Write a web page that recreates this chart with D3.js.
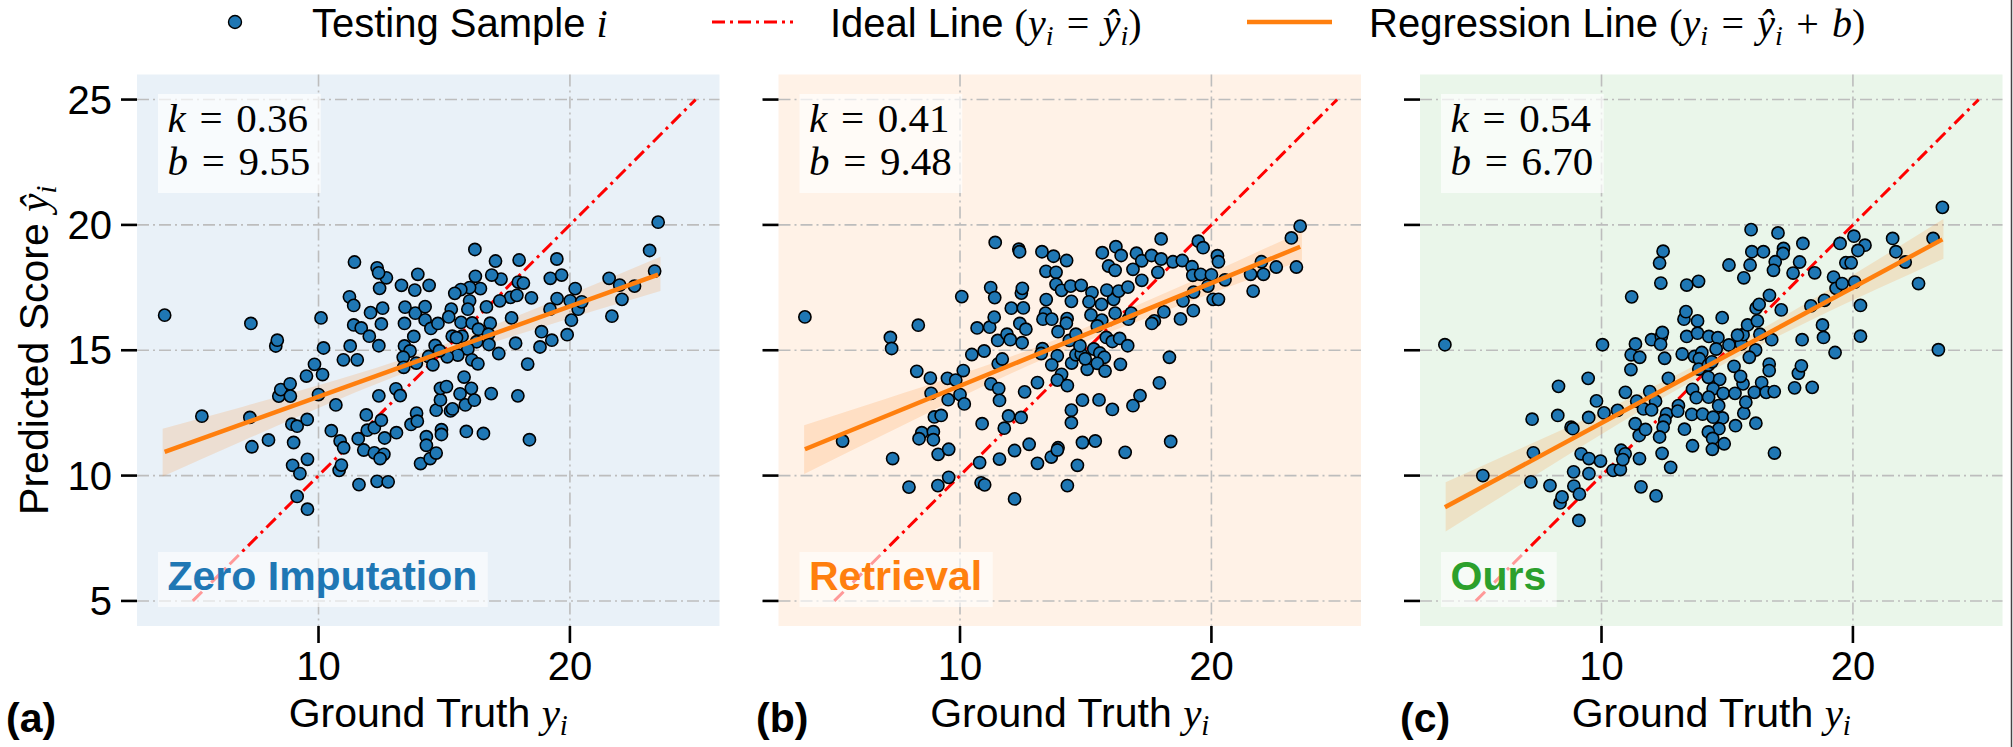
<!DOCTYPE html>
<html>
<head>
<meta charset="utf-8">
<script src="https://cdn.jsdelivr.net/npm/d3@7"></script>
<style>
  body { margin: 0; background: #fff; }
  svg { display: block; }
  text { white-space: pre; }
</style>
</head>
<body>
<div id="chart"></div>
<script>
// ---- data ----
const zeroX = [3.88,7.31,5.36,7.27,7.35,8.01,8.30,8.36,8.42,8.50,8.87,8.88,8.94,9.15,9.01,8.97,9.26,9.56,9.55,9.52,9.84,10.16,10.00,10.20,10.10,9.15,9.56,10.69,10.51,10.86,11.00,10.82,10.91,10.99,11.26,11.54,11.23,11.40,11.43,11.40,11.70,12.02,12.07,12.40,12.50,12.55,12.43,12.70,12.33,12.39,11.61,12.33,12.77,11.90,11.58,11.94,12.22,12.50,12.63,11.80,12.22,12.60,12.45,12.40,13.10,13.08,13.25,13.30,13.44,13.42,13.83,13.95,14.40,13.85,14.24,14.24,14.47,14.75,13.79,13.42,13.64,13.37,13.39,13.89,14.38,14.64,14.55,13.68,13.90,13.93,14.29,14.29,14.06,14.44,14.68,14.89,14.89,14.68,14.85,14.85,15.09,15.25,15.33,15.63,15.84,16.08,16.20,15.79,15.88,16.56,16.87,17.93,18.39,18.32,17.84,18.81,18.87,19.28,19.89,20.06,17.68,18.47,17.95,18.15,17.98,17.64,17.89,17.21,17.26,16.89,17.04,16.22,16.24,16.44,16.01,15.66,15.42,16.01,15.94,15.28,15.18,15.67,16.11,16.68,16.83,16.36,16.76,15.71,15.32,15.49,16.29,16.78,17.17,15.94,15.54,15.12,16.10,16.34,19.22,19.67,19.48,19.21,19.49,20.01,20.21,20.33,20.47,21.56,21.98,22.57,22.07,21.67,23.17,23.51,23.37,14.81];
const zeroY = [16.40,16.07,12.37,12.32,11.15,11.42,15.17,15.40,13.17,13.43,13.66,13.17,12.05,11.97,11.32,10.41,10.08,10.65,12.24,13.97,14.44,14.03,13.23,15.09,16.29,9.17,8.66,12.82,11.79,11.38,11.11,10.21,10.42,14.62,15.17,14.62,17.13,16.79,18.52,16.01,15.89,15.56,16.50,15.18,16.05,16.68,17.47,17.89,18.29,18.09,9.64,9.77,9.75,12.42,11.47,11.81,11.91,12.21,11.50,11.02,10.91,10.85,10.68,13.18,11.71,13.46,13.19,17.59,16.72,16.07,17.40,18.03,17.59,16.48,16.74,16.21,15.87,16.07,15.55,15.17,14.97,14.72,14.32,14.49,14.75,15.19,14.42,12.04,12.49,12.17,11.55,11.21,10.48,10.68,10.90,11.83,11.64,12.61,13.02,13.48,13.55,12.58,12.66,13.26,12.82,13.48,13.01,13.93,11.76,11.68,13.27,13.18,11.43,14.45,15.28,15.13,15.74,15.40,15.62,16.20,16.29,17.09,17.72,17.68,18.60,17.11,17.19,16.97,17.84,18.00,18.56,19.02,17.95,17.46,17.50,17.42,17.27,16.97,16.64,16.64,16.33,16.11,16.09,16.73,16.08,15.84,15.64,15.56,15.56,15.50,15.34,15.23,14.87,15.05,14.81,14.74,14.62,14.46,17.87,18.00,18.64,16.64,17.06,16.97,17.46,16.64,16.93,17.87,17.60,17.56,17.03,16.36,18.98,20.11,18.16,14.98];

const retrX = [3.83,5.33,7.23,7.28,8.34,7.32,7.97,8.28,8.82,8.85,8.98,9.25,8.48,8.37,8.94,8.94,9.13,9.55,9.12,9.55,9.50,9.83,10.13,10.00,9.53,10.17,10.07,10.47,10.96,10.68,11.18,11.36,11.22,11.38,11.40,10.88,10.78,10.84,10.98,11.57,12.17,12.17,12.75,13.08,13.63,13.90,13.87,14.27,14.67,14.87,15.38,16.57,18.38,11.76,11.93,12.43,11.23,11.54,11.57,11.52,11.68,11.50,11.87,12.00,12.04,12.52,12.44,12.48,12.34,12.37,12.38,12.62,12.47,12.57,13.08,13.26,13.72,14.24,13.42,13.82,13.82,14.04,14.40,14.82,13.43,14.43,13.40,13.30,13.65,14.26,14.23,13.90,14.35,14.61,13.28,13.23,13.87,13.65,14.44,14.61,14.82,14.77,14.04,13.87,14.27,15.06,14.98,14.87,15.53,16.06,14.43,14.43,15.25,15.13,15.63,15.21,15.64,15.46,16.11,15.84,16.31,16.17,16.68,16.70,16.81,15.82,16.06,16.35,16.67,15.32,15.56,15.74,15.46,16.38,15.77,15.66,16.20,16.41,15.91,16.17,17.02,17.23,16.88,17.23,17.62,18.00,18.00,17.87,18.47,18.84,19.23,19.48,19.67,20.24,20.28,19.26,19.57,20.00,20.54,19.86,19.29,18.87,18.11,17.73,17.63,18.77,19.28,20.07,20.28,18.33,17.93,17.16,16.88,21.56,21.99,22.07,21.66,22.58,23.38,23.18,23.53];
const retrY = [16.33,11.38,15.51,15.07,16.00,10.68,9.54,14.16,13.89,13.28,12.34,12.40,11.71,11.47,11.75,11.43,10.85,11.05,9.60,9.93,13.88,13.81,14.19,13.23,13.03,12.86,17.14,14.83,14.97,15.89,15.92,16.32,17.50,17.10,19.30,12.07,10.52,9.71,9.63,10.66,9.07,11.00,11.25,10.49,10.74,11.11,11.02,9.60,10.41,11.32,11.38,10.93,11.36,11.89,12.38,12.32,13.66,13.47,13.00,14.46,14.65,15.39,15.64,15.42,16.68,16.69,17.28,17.47,19.03,18.93,16.07,15.84,15.30,13.34,13.71,18.93,18.75,18.58,18.15,18.11,17.63,17.39,17.56,17.59,17.02,16.95,16.48,16.24,16.24,16.26,16.08,15.74,15.39,15.64,15.06,14.87,14.78,14.42,14.49,14.82,14.85,15.18,14.04,13.81,13.59,14.24,14.66,13.01,13.02,12.64,12.61,12.11,17.30,16.93,16.83,16.41,16.20,15.97,17.03,17.40,17.36,16.48,17.52,16.24,16.48,15.51,15.35,15.47,15.18,15.05,14.89,14.72,14.48,14.44,14.17,18.89,19.13,18.78,18.36,18.19,18.87,18.57,18.23,17.79,18.78,19.44,18.64,18.11,18.53,18.58,18.33,19.35,19.09,18.77,18.53,17.99,18.03,18.01,17.81,17.56,17.32,16.97,16.53,16.17,16.07,16.25,16.58,17.03,17.03,14.72,13.70,13.19,12.79,18.03,18.53,18.03,17.36,18.32,18.32,19.48,19.95];

const oursX = [3.77,5.28,7.24,8.29,8.26,7.29,7.19,7.95,8.35,8.43,8.90,9.12,9.10,8.89,9.50,9.19,9.50,9.96,8.79,8.86,9.49,9.47,9.80,10.10,10.04,10.64,10.46,10.75,10.78,10.94,10.85,10.95,11.20,11.17,11.18,11.35,11.52,11.34,11.50,11.75,11.51,11.57,12.17,11.40,11.67,11.92,12.15,11.99,11.99,12.38,12.35,12.42,12.51,12.45,12.31,12.36,13.39,13.86,12.66,12.59,12.52,12.45,12.31,12.41,12.75,13.06,13.03,13.30,13.62,13.59,14.02,13.62,13.77,13.21,13.39,13.28,13.36,13.82,13.82,14.27,14.63,13.70,13.99,13.89,13.87,14.25,14.25,14.39,14.56,14.80,15.07,14.70,14.44,14.26,14.66,14.81,14.44,14.67,14.25,14.42,14.41,14.88,15.33,16.14,15.66,15.74,14.84,15.31,15.63,15.27,15.53,15.07,15.56,15.63,15.81,16.13,15.88,16.30,16.20,16.15,16.27,16.68,16.77,16.67,16.67,16.37,16.08,16.55,16.87,16.88,15.95,17.02,15.98,16.44,17.24,17.22,15.91,15.66,16.91,16.84,17.88,17.62,18.01,18.48,17.15,17.98,18.38,17.68,17.83,17.95,18.33,18.87,18.79,18.83,19.29,19.23,19.49,20.04,20.48,20.20,19.72,19.93,19.33,19.57,20.07,20.30,20.30,21.58,21.71,22.08,22.61,23.19,23.56,23.40,15.41];
const oursY = [15.22,10.00,12.25,13.56,12.40,10.91,9.75,9.60,8.91,9.15,9.58,9.26,8.21,10.15,10.08,10.87,10.68,10.58,11.93,11.87,12.32,13.88,12.98,12.50,15.22,12.60,10.21,10.24,11.01,10.87,10.64,13.32,17.13,14.23,14.82,15.25,14.72,12.07,11.60,11.84,10.68,9.55,9.19,12.97,12.66,13.35,12.97,12.62,15.42,15.55,15.24,15.71,14.68,18.95,18.48,17.68,17.60,17.75,13.88,12.46,12.20,11.93,11.54,10.89,10.33,12.79,12.57,11.85,11.19,12.44,12.45,13.44,13.11,14.85,15.55,16.24,16.54,16.17,15.68,15.55,15.50,14.75,14.91,14.66,14.25,13.92,14.41,14.54,15.05,16.30,18.40,13.84,13.46,13.13,12.79,12.30,12.33,11.87,11.74,11.48,11.05,11.27,11.99,12.09,12.49,12.93,13.28,13.28,13.66,14.36,13.96,15.21,15.25,15.62,16.01,15.01,14.72,15.64,16.17,16.68,16.83,17.19,15.42,14.45,14.19,13.71,13.32,13.32,13.35,10.90,19.81,19.68,18.93,18.93,19.06,18.86,18.40,17.89,18.53,18.19,18.52,18.08,19.26,18.09,16.61,15.42,13.52,13.50,14.08,14.38,16.77,16.99,16.01,15.51,14.91,17.92,19.26,19.55,19.19,18.98,18.49,18.49,17.47,17.66,17.72,16.79,15.56,19.46,18.93,18.52,17.66,19.46,20.70,15.02,15.60];

const methodNames = ['Zero Imputation', 'Retrieval', 'Ours'];
const panelTags = ['(a)', '(b)', '(c)'];
const slopes = [0.36, 0.41, 0.54];
const intercepts = [9.55, 9.48, 6.70];
// confidence band half-widths, sampled along x
const ciX = [3.8, 7, 10, 13, 15, 18, 21, 23.6];
const ciZero = [0.95, 0.68, 0.45, 0.30, 0.28, 0.38, 0.52, 0.68];
const ciRetr = [0.97, 0.70, 0.45, 0.30, 0.28, 0.35, 0.45, 0.58];
const ciOurs = [0.98, 0.70, 0.45, 0.30, 0.28, 0.38, 0.58, 0.79];
const idealRange = [5, 25];
const xTicks = [10, 20];
const yTicks = [5, 10, 15, 20, 25];

// ---- layout / style ----
const W = 2013, H = 747;
const SANS = '"Liberation Sans", Arial, Helvetica, sans-serif';
const SERIF = '"Liberation Serif", "DejaVu Serif", serif';
const SP = '\u2004'; // math spacing around = and +
const panelLeft = [137, 778.5, 1420];
const panelW = 582.5, panelTop = 74.5, panelBottom = 626;
const bgColors = ['#e9f1f8', '#fff2e7', '#eaf6ea'];
const methodColors = ['#1f77b4', '#ff7f0e', '#2ca02c'];
const tagX = [6, 756, 1400];

const panels = [
  { xs: zeroX, ys: zeroY, ci: ciZero },
  { xs: retrX, ys: retrY, ci: ciRetr },
  { xs: oursX, ys: oursY, ci: ciOurs }
];

const svg = d3.select('#chart').append('svg')
  .attr('width', W).attr('height', H)
  .attr('viewBox', [0, 0, W, H]);

svg.append('rect').attr('width', W).attr('height', H).attr('fill', '#fff');

// mixed sans / math text built from tspans
function mathText(parent, parts, size) {
  const t = parent.append('text').attr('font-size', size).attr('fill', '#000');
  let shifted = false;
  parts.forEach(([kind, str]) => {
    const isSub = kind === 'sub';
    const s = t.append('tspan').text(str)
      .attr('font-family', kind === 'sans' ? SANS : SERIF)
      .attr('font-style', (kind === 'it' || isSub) ? 'italic' : 'normal');
    if (isSub) s.attr('font-size', size * 0.7);
    if (isSub && !shifted) { s.attr('dy', size * 0.2); shifted = true; }
    else if (!isSub && shifted) { s.attr('dy', -size * 0.2); shifted = false; }
  });
  return t;
}

const y = d3.scaleLinear().domain([4, 26]).range([panelBottom, panelTop]);

panels.forEach((p, i) => {
  const x0 = panelLeft[i];
  const x = d3.scaleLinear().domain([2.78, 25.95]).range([x0, x0 + panelW]);
  const g = svg.append('g');

  g.append('rect')
    .attr('x', x0).attr('y', panelTop)
    .attr('width', panelW).attr('height', panelBottom - panelTop)
    .attr('fill', bgColors[i]);

  // grid
  g.selectAll('line.gx').data(xTicks).join('line')
    .attr('x1', d => x(d)).attr('x2', d => x(d))
    .attr('y1', panelTop).attr('y2', panelBottom)
    .attr('stroke', '#bdbdbd').attr('stroke-width', 1.6)
    .attr('stroke-dasharray', '12,4,2,4');
  g.selectAll('line.gy').data(yTicks).join('line')
    .attr('x1', x0).attr('x2', x0 + panelW)
    .attr('y1', d => y(d)).attr('y2', d => y(d))
    .attr('stroke', '#bdbdbd').attr('stroke-width', 1.6)
    .attr('stroke-dasharray', '12,4,2,4');

  // confidence band
  const k = slopes[i], b = intercepts[i];
  const band = ciX.map((cx, j) => ({ x: cx, lo: k * cx + b - p.ci[j], hi: k * cx + b + p.ci[j] }));
  g.append('path')
    .datum(band)
    .attr('fill', '#ff7f0e').attr('fill-opacity', 0.16)
    .attr('d', d3.area().x(d => x(d.x)).y0(d => y(d.lo)).y1(d => y(d.hi)).curve(d3.curveMonotoneX));

  // ideal line
  g.append('line')
    .attr('x1', x(idealRange[0])).attr('y1', y(idealRange[0]))
    .attr('x2', x(idealRange[1])).attr('y2', y(idealRange[1]))
    .attr('stroke', '#ff0000').attr('stroke-width', 3)
    .attr('stroke-dasharray', '13,5,3,5');

  // samples
  const pts = d3.zip(p.xs, p.ys);
  g.selectAll('circle').data(pts).join('circle')
    .attr('cx', d => x(d[0])).attr('cy', d => y(d[1]))
    .attr('r', 6.1)
    .attr('fill', '#1f77b4').attr('stroke', '#000').attr('stroke-width', 1.6);

  // regression line
  const [xmin, xmax] = d3.extent(p.xs);
  g.append('line')
    .attr('x1', x(xmin)).attr('y1', y(k * xmin + b))
    .attr('x2', x(xmax)).attr('y2', y(k * xmax + b))
    .attr('stroke', '#ff7f0e').attr('stroke-width', 4.5);

  // k / b annotation
  const ann = g.append('g');
  const boxK = ann.append('rect').attr('fill', '#fff').attr('fill-opacity', 0.68);
  const t1 = mathText(ann, [['it', 'k'], ['rm', SP + '=' + SP + k.toFixed(2)]], 41)
    .attr('x', x0 + 30.5).attr('y', 132);
  const t2 = mathText(ann, [['it', 'b'], ['rm', SP + '=' + SP + b.toFixed(2)]], 41)
    .attr('x', x0 + 30.5).attr('y', 175);
  const wK = Math.max(t1.node().getComputedTextLength(), t2.node().getComputedTextLength());
  boxK.attr('x', x0 + 21).attr('y', 94).attr('width', wK + 20).attr('height', 99);

  // method label
  const lab = g.append('g');
  const boxL = lab.append('rect').attr('fill', '#fff').attr('fill-opacity', 0.6);
  const tl = lab.append('text')
    .attr('x', x0 + 30.5).attr('y', 590)
    .attr('font-family', SANS).attr('font-weight', 700).attr('font-size', 41)
    .attr('fill', methodColors[i])
    .text(methodNames[i]);
  boxL.attr('x', x0 + 21).attr('y', 552)
    .attr('width', tl.node().getComputedTextLength() + 20).attr('height', 55);

  // ticks
  g.selectAll('line.ty').data(yTicks).join('line')
    .attr('x1', x0 - 16).attr('x2', x0)
    .attr('y1', d => y(d)).attr('y2', d => y(d))
    .attr('stroke', '#000').attr('stroke-width', 2.6);
  g.selectAll('line.tx').data(xTicks).join('line')
    .attr('x1', d => x(d)).attr('x2', d => x(d))
    .attr('y1', panelBottom).attr('y2', panelBottom + 17)
    .attr('stroke', '#000').attr('stroke-width', 2.6);

  g.selectAll('text.xt').data(xTicks).join('text')
    .attr('x', d => x(d)).attr('y', panelBottom + 54)
    .attr('text-anchor', 'middle')
    .attr('font-family', SANS).attr('font-size', 40)
    .text(d => d);

  if (i === 0) {
    g.selectAll('text.yt').data(yTicks).join('text')
      .attr('x', x0 - 25).attr('y', d => y(d) + 14)
      .attr('text-anchor', 'end')
      .attr('font-family', SANS).attr('font-size', 40)
      .text(d => d);
    mathText(g, [['sans', 'Predicted Score '], ['it', 'ŷ'], ['sub', 'i']], 41)
      .attr('text-anchor', 'middle')
      .attr('transform', `translate(48, ${(panelTop + panelBottom) / 2}) rotate(-90)`);
  }

  mathText(g, [['sans', 'Ground Truth '], ['it', 'y'], ['sub', 'i']], 41)
    .attr('text-anchor', 'middle')
    .attr('x', x0 + panelW / 2).attr('y', 727);

  g.append('text')
    .attr('x', tagX[i]).attr('y', 732)
    .attr('font-family', SANS).attr('font-weight', 700).attr('font-size', 41)
    .text(panelTags[i]);
});

// ---- legend ----
const legBase = 36.5, legMid = 22;
const leg = svg.append('g');
leg.append('circle').attr('cx', 235).attr('cy', legMid).attr('r', 6.5)
  .attr('fill', '#1f77b4').attr('stroke', '#000').attr('stroke-width', 1.4);
mathText(leg, [['sans', 'Testing Sample '], ['it', 'i']], 40).attr('x', 312).attr('y', legBase);

leg.append('line').attr('x1', 712).attr('x2', 793).attr('y1', legMid).attr('y2', legMid)
  .attr('stroke', '#ff0000').attr('stroke-width', 3).attr('stroke-dasharray', '13,5,3,5');
mathText(leg, [['sans', 'Ideal Line '], ['rm', '('], ['it', 'y'], ['sub', 'i'], ['rm', SP + '=' + SP], ['it', 'ŷ'], ['sub', 'i'], ['rm', ')']], 40)
  .attr('x', 830).attr('y', legBase);

leg.append('line').attr('x1', 1247).attr('x2', 1332).attr('y1', legMid).attr('y2', legMid)
  .attr('stroke', '#ff7f0e').attr('stroke-width', 4.5);
mathText(leg, [['sans', 'Regression Line '], ['rm', '('], ['it', 'y'], ['sub', 'i'], ['rm', SP + '=' + SP], ['it', 'ŷ'], ['sub', 'i'], ['rm', SP + '+' + SP], ['it', 'b'], ['rm', ')']], 40)
  .attr('x', 1369).attr('y', legBase);

// right border of the figure
svg.append('line').attr('x1', 2011.5).attr('x2', 2011.5).attr('y1', 0).attr('y2', H)
  .attr('stroke', '#444').attr('stroke-width', 1.5);
</script>
</body>
</html>
